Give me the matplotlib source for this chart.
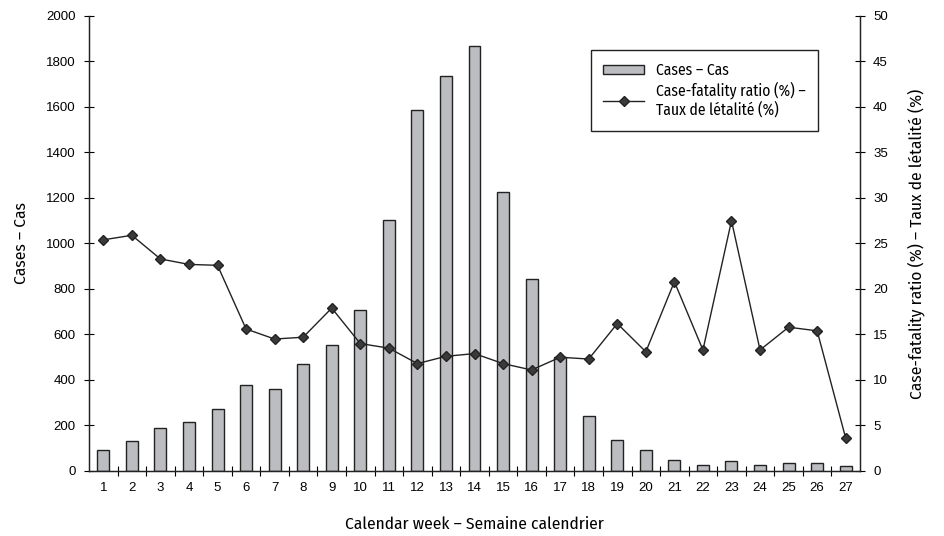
import matplotlib
matplotlib.use("Agg")
import matplotlib.pyplot as plt
from matplotlib.ticker import MultipleLocator, FixedLocator
import numpy as np

weeks = list(range(1, 28))
cases = [94, 130, 189, 215, 274, 378, 362, 472, 553, 706, 1105, 1587, 1736, 1868,
         1226, 844, 501, 240, 138, 94, 50, 25, 46, 25, 35, 35, 22]
cfr = [25.4, 25.9, 23.3, 22.7, 22.6, 15.6, 14.5, 14.7, 17.9, 14.0, 13.5, 11.8, 12.6, 12.9,
       11.8, 11.1, 12.5, 12.3, 16.2, 13.1, 20.8, 13.3, 27.5, 13.3, 15.8, 15.4, 3.6]

tick_font = "Liberation Sans"
# condensed face for the axis titles and legend, plain sans if it's missing
label_font = ["Fira Sans Condensed", "IBM Plex Sans Condensed", "DejaVu Sans"]

fig = plt.figure(figsize=(9.44, 5.36), dpi=100)
ax = fig.add_axes([0.0943, 0.1213, 0.8167, 0.8489])
ax2 = ax.twinx()

bars = ax.bar(weeks, cases, width=0.42, color="#bcbdc1", edgecolor="#222222",
              linewidth=1.0, label="Cases \u2013 Cas", zorder=2)
line, = ax2.plot(weeks, cfr, color="#222222", linewidth=1.0, marker="D", markersize=5,
                 markerfacecolor="#3a3a3a", markeredgecolor="#222222",
                 label="Case-fatality ratio (%) \u2013\nTaux de l\u00e9talit\u00e9 (%)")

ax.set_xlim(0.5, 27.5)
ax.set_ylim(0, 2000)
ax2.set_ylim(0, 50)
ax.yaxis.set_major_locator(MultipleLocator(200))
ax2.yaxis.set_major_locator(MultipleLocator(5))

ax.set_xticks(weeks)
ax.xaxis.set_minor_locator(FixedLocator(np.arange(1.5, 27.5, 1)))
ax.tick_params(axis="x", which="major", length=0, pad=8)
ax.tick_params(axis="x", which="minor", length=7, direction="inout", width=0.8)
ax.tick_params(axis="y", direction="inout", length=7, width=0.8, pad=6)
ax2.tick_params(axis="y", direction="inout", length=7, width=0.8, pad=6)

for a in (ax, ax2):
    for lab in a.get_xticklabels() + a.get_yticklabels():
        lab.set_fontfamily(tick_font)
        lab.set_fontsize(9.5)
    for s in a.spines.values():
        s.set_linewidth(0.9)
        s.set_color("#222222")
ax.spines["top"].set_visible(False)
ax2.spines["top"].set_visible(False)

lab_kw = dict(family=label_font, fontsize=12.5, fontweight="normal")
ax.set_ylabel("Cases \u2013 Cas", labelpad=12, **lab_kw)
ax2.set_ylabel("Case-fatality ratio (%) \u2013 Taux de l\u00e9talit\u00e9 (%)",
               labelpad=14, **lab_kw)
ax.set_xlabel("Calendar week \u2013 Semaine calendrier", labelpad=16, **lab_kw)

leg = ax2.legend([bars, line], [bars.get_label(), line.get_label()],
                 loc="upper left", bbox_to_anchor=(0.651, 0.925),
                 prop={"family": label_font, "size": 11.2, "weight": "normal"},
                 frameon=True, fancybox=False, edgecolor="#222222", framealpha=1,
                 handlelength=2.6, handleheight=0.5, borderpad=0.8,
                 labelspacing=0.2, handletextpad=0.8, borderaxespad=0)
leg.get_frame().set_linewidth(1.0)

fig.savefig("out.png", dpi=100)
